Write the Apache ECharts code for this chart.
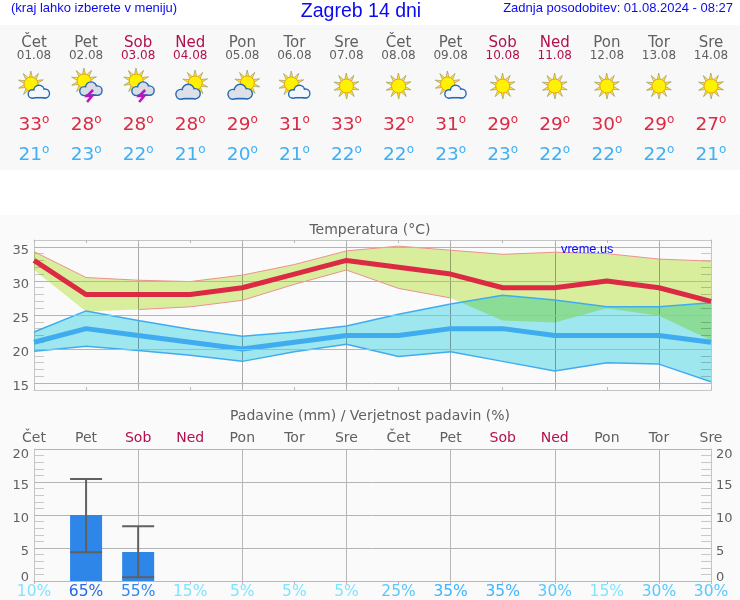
<!DOCTYPE html>
<html><head><meta charset="utf-8">
<style>html,body{margin:0;padding:0;background:#fafafa}#c{width:740px;height:600px}</style>
<script src="https://cdn.jsdelivr.net/npm/echarts@6/dist/echarts.min.js"></script>
</head><body><div id="c"></div>
<script>
const dayNames = ['Čet','Pet','Sob','Ned','Pon','Tor','Sre','Čet','Pet','Sob','Ned','Pon','Tor','Sre'];
const dates = ['01.08','02.08','03.08','04.08','05.08','06.08','07.08','08.08','09.08','10.08','11.08','12.08','13.08','14.08'];
const icons = ['sunCloud','storm','storm','cloudSun','cloudSun','sunCloud','sun','sun','sunCloud','sun','sun','sun','sun','sun'];
const tMax = [33,28,28,28,29,31,33,32,31,29,29,30,29,27];
const tMin = [21,23,22,21,20,21,22,22,23,23,22,22,22,21];
const maxUpper = [34.3,30.5,30.1,29.9,30.85,32.4,34.4,35.1,34.5,33.9,34.2,34.0,33.2,32.9];
const maxLower = [31.6,25.5,25.8,26.2,27.15,29.5,31.6,28.9,27.5,24.2,23.9,26.0,24.9,21.3];
const minUpper = [22.5,25.6,24.2,22.9,21.9,22.5,23.4,25.1,26.6,27.9,27.2,26.2,26.2,26.8];
const minLower = [19.7,20.4,19.8,19.1,18.2,19.6,20.7,18.9,19.6,18.2,16.8,18.0,17.8,15.2];
const tempTicks = [15,20,25,30,35];
const rain = [0,10,4.4,0,0,0,0,0,0,0,0,0,0,0];
const rainLow = [null,4.35,0.55,null,null,null,null,null,null,null,null,null,null,null];
const rainHigh = [null,15.45,8.3,null,null,null,null,null,null,null,null,null,null,null];
const rainProb = [10,65,55,15,5,5,5,25,35,35,30,15,30,30];

const TXT = '#606060', WEEKEND = '#b0104e', FONT = '"DejaVu Sans"', AR = '"Liberation Sans"', BLUE = '#0a0af0';
const L = 34, R = 29;
const dayColor = i => (dayNames[i] === 'Sob' || dayNames[i] === 'Ned') ? WEEKEND : TXT;
const probColor = p => p >= 65 ? '#2868e0' : p >= 55 ? '#3088ee' : p >= 35 ? '#40b4ff' : p >= 25 ? '#58c8ff' : '#80e4ff';
const idx = dayNames.map((_, i) => i);

function rowSeries(y, fmt, color, size, rich) {
  return {
    type: 'scatter', xAxisIndex: 0, yAxisIndex: 0, symbolSize: 1, itemStyle: {color: 'transparent', opacity: 1}, silent: true,
    data: idx.map(i => ({value: [i, y], label: {color: color(i), formatter: fmt(i)}})),
    label: {show: true, position: 'inside', fontFamily: FONT, fontSize: size, rich: rich}
  };
}
const degRich = c => ({
  n: {fontFamily: FONT, fontSize: 18.5, color: c, lineHeight: 22},
  d: {fontFamily: FONT, fontSize: 12, color: c, verticalAlign: 'top', lineHeight: 16, padding: [0,0,6,0]}
});

function sun(cx, cy) {
  const ch = [];
  for (let k = 0; k < 10; k++) {
    const a = k * Math.PI / 5 + 0.3;
    const b = 0.34;
    ch.push({type: 'polygon', shape: {points: [
      [cx + 13 * Math.cos(a), cy + 13 * Math.sin(a)],
      [cx + 5.5 * Math.cos(a + b), cy + 5.5 * Math.sin(a + b)],
      [cx + 5.5 * Math.cos(a - b), cy + 5.5 * Math.sin(a - b)]
    ]}, style: {fill: '#ffe61e', stroke: '#9a9a70', lineWidth: 0.7}});
  }
  ch.push({type: 'circle', shape: {cx, cy, r: 7}, style: {fill: '#fff200', stroke: '#f0a020', lineWidth: 1}});
  return ch;
}
function cloud(cx, cy, s, fill) {
  const cs = [[-6.5*s,2*s,4*s],[0,-1.5*s,5*s],[6*s,1.5*s,4.2*s]];
  const ch = [];
  cs.forEach(c => ch.push({type:'circle', shape:{cx:cx+c[0], cy:cy+c[1], r:c[2]}, style:{fill:fill, stroke:'#2468b4', lineWidth:2}}));
  ch.push({type:'rect', shape:{x:cx-6.5*s, y:cy+1*s, width:12.5*s, height:4.6*s}, style:{fill:fill, stroke:'#2468b4', lineWidth:2}});
  cs.forEach(c => ch.push({type:'circle', shape:{cx:cx+c[0], cy:cy+c[1], r:c[2]-0.4}, style:{fill:fill}}));
  ch.push({type:'rect', shape:{x:cx-6.5*s, y:cy+0.5*s, width:12.5*s, height:4.4*s}, style:{fill:fill}});
  return ch;
}
function bolt(cx, cy) {
  return [{type:'polyline', shape:{points:[[cx+3,cy-6],[cx-3,cy],[cx+2,cy],[cx-3,cy+6]]}, style:{fill:'none', stroke:'#c010c0', lineWidth:2.5}}];
}
function renderIcon(params, api) {
  const i = api.value(0), p = api.coord([i, api.value(1)]), t = icons[i];
  let ch;
  if (t === 'sun') ch = sun(0, 0);
  else if (t === 'sunCloud') ch = sun(-3, -2).concat(cloud(5, 6, 1, '#f4f8fc'));
  else if (t === 'storm') ch = sun(-2, -5).concat(cloud(5, 3, 1.05, '#d8dce4'), bolt(4, 10));
  else ch = sun(5, -3).concat(cloud(-2, 6, 1.15, '#dde0e8'));
  return {type: 'group', x: p[0], y: p[1], children: ch};
}
function bandRender(upper, lower, fill) {
  return function (params, api) {
    const pts = [];
    upper.forEach((v, i) => pts.push(api.coord([i, v])));
    for (let i = lower.length - 1; i >= 0; i--) pts.push(api.coord([i, lower[i]]));
    return {type: 'polygon', shape: {points: pts}, style: {fill: fill}};
  };
}
function edge(d, color, w, z) {
  return {type:'line', xAxisIndex:1, yAxisIndex:1, data:d, symbol:'none', silent:true, z:z, connectNulls:false, lineStyle:{color:color, width:w}};
}
function renderErr(params, api) {
  const x = api.value(0), lo = api.coord([x, api.value(1)]), hi = api.coord([x, api.value(2)]);
  const hw = 16, st = {stroke:'#606060', lineWidth:2, fill:'none'};
  return {type:'group', children:[
    {type:'line', shape:{x1:hi[0], y1:hi[1], x2:lo[0], y2:lo[1]}, style:st},
    {type:'line', shape:{x1:hi[0]-hw, y1:hi[1], x2:hi[0]+hw, y2:hi[1]}, style:st},
    {type:'line', shape:{x1:lo[0]-hw, y1:lo[1], x2:lo[0]+hw, y2:lo[1]}, style:st}
  ]};
}
const catAxis = (g, pos, extra) => Object.assign({
  type:'category', gridIndex:g, position:pos, data:dayNames, boundaryGap:false,
  axisLine:{show:true, lineStyle:{color:'#c4c4c4', width:1}},
  axisTick:{show:true, inside:true, length:3, lineStyle:{color:'#b8b8b8'}},
  axisLabel:{show:false}, splitLine:{show:false}
}, extra);
const valLabel = {fontFamily:FONT, fontSize:13, color:TXT, verticalAlign:'top', lineHeight:7};
const rainLabel = Object.assign({}, valLabel, {
  margin:5, verticalAlignMinLabel:'bottom',
  formatter: v => v === 20 ? '{t|20}' : String(v),
  rich: {t: {fontFamily:FONT, fontSize:13, color:TXT, lineHeight:7, padding:[4,0,0,0]}}
});
const tTitle = (font, size, color) => ({fontFamily:font, fontSize:size, fontWeight:'normal', color:color});

const option = {
  animation: false,
  backgroundColor: '#fafafa',
  graphic: [
    {type:'rect', z:-5, shape:{x:0,y:0,width:740,height:25}, style:{fill:'#ffffff'}},
    {type:'rect', z:-5, shape:{x:0,y:25,width:740,height:145}, style:{fill:'#f8f8f8'}},
    {type:'rect', z:-5, shape:{x:0,y:170,width:740,height:45}, style:{fill:'#ffffff'}}
  ],
  title: [
    {text:'(kraj lahko izberete v meniju)', padding:0, left:11, top:2, textStyle:tTitle(AR,13,BLUE)},
    {text:'Zagreb 14 dni', padding:0, left:361, textAlign:'center', top:2, textStyle:tTitle(AR,19.5,BLUE)},
    {text:'Zadnja posodobitev: 01.08.2024 - 08:27', padding:0, right:7, top:2, textStyle:tTitle(AR,13,BLUE)},
    {text:'Temperatura (°C)', padding:0, left:370, textAlign:'center', top:223, textStyle:tTitle(FONT,14,TXT)},
    {text:'vreme.us', padding:0, left:561, top:243, z:20, textStyle:tTitle(AR,12.75,BLUE)},
    {text:'Padavine (mm) / Verjetnost padavin (%)', padding:0, left:370, textAlign:'center', top:409, textStyle:tTitle(FONT,14,TXT)}
  ],
  grid: [
    {left:L, right:R, top:25, height:145},
    {left:L, right:R, top:240, height:150, show:true, backgroundColor:'#fafafa', borderWidth:0},
    {left:L, right:R, top:449, height:132, show:true, backgroundColor:'#fafafa', borderWidth:0}
  ],
  xAxis: [
    {type:'category', gridIndex:0, data:dayNames, boundaryGap:false, show:false},
    catAxis(1,'bottom',{splitLine:{show:true, interval:1, lineStyle:{color:'#a8a8a8'}}}),
    catAxis(1,'top',{}),
    catAxis(2,'bottom',{
      data: rainProb.map(p => p + '%'), axisTick:{show:false},
      axisLabel:{show:true, interval:0, margin:3, fontFamily:FONT, fontSize:15.5, color:(v,i)=>probColor(rainProb[i])},
      splitLine:{show:true, interval:1, lineStyle:{color:'#b8b4b8'}}
    }),
    catAxis(2,'top',{
      axisLine:{show:true, lineStyle:{color:'#e4a0bc', width:1}},
      axisTick:{show:true, inside:true, length:3, lineStyle:{color:'#e4a0bc'}},
      axisLabel:{show:true, interval:0, margin:4, fontFamily:FONT, fontSize:14, color:(v,i)=>dayColor(i)}
    })
  ],
  yAxis: [
    {type:'value', gridIndex:0, min:0, max:145, inverse:true, show:false},
    {type:'value', gridIndex:1, position:'left', min:14, max:36, interval:1,
     axisLine:{show:true, lineStyle:{color:'#c4c4c4'}},
     axisTick:{show:true, inside:true, length:10, lineStyle:{color:'#c8c8c8'}},
     axisLabel:Object.assign({margin:5, formatter:v => tempTicks.includes(v) ? String(v) : ''}, valLabel),
     splitLine:{show:false}},
    {type:'value', gridIndex:1, position:'right', min:14, max:36, interval:1,
     axisLine:{show:true, lineStyle:{color:'#c4c4c4'}},
     axisTick:{show:true, inside:true, length:10, lineStyle:{color:'#c8c8c8'}},
     axisLabel:{show:false}, splitLine:{show:false}},
    {type:'value', gridIndex:2, position:'left', min:0, max:20, interval:5,
     axisLine:{show:true, lineStyle:{color:'#c4c4c4'}},
     axisTick:{show:false, inside:true},
     minorTick:{show:true, splitNumber:5, length:10, lineStyle:{color:'#c8c8c8'}},
     axisLabel:rainLabel,
     splitLine:{show:true, lineStyle:{color:'#b4b4b4'}}},
    {type:'value', gridIndex:2, position:'right', min:0, max:20, interval:5,
     axisLine:{show:true, lineStyle:{color:'#c4c4c4'}},
     axisTick:{show:false, inside:true},
     minorTick:{show:true, splitNumber:5, length:10, lineStyle:{color:'#c8c8c8'}},
     axisLabel:rainLabel,
     splitLine:{show:false}}
  ],
  series: [
    rowSeries(18, i => dayNames[i], dayColor, 15),
    rowSeries(31, i => dates[i], dayColor, 12),
    rowSeries(100, i => `{n|${tMax[i]}}{d|o}`, () => '#dc2a44', 18, degRich('#dc2a44')),
    rowSeries(130, i => `{n|${tMin[i]}}{d|o}`, () => '#40b0f4', 18, degRich('#40b0f4')),
    {type:'custom', xAxisIndex:0, yAxisIndex:0, silent:true, clip:false, renderItem:renderIcon,
     data: idx.map(i => [i, 61])},
    {type:'line', xAxisIndex:1, yAxisIndex:1, data:[], silent:true, z:1,
     markLine:{silent:true, symbol:'none', label:{show:false}, lineStyle:{color:'#b4b4b4', type:'solid', width:1},
       data: tempTicks.map(v => ({yAxis:v}))}},
    {type:'custom', xAxisIndex:1, yAxisIndex:1, silent:true, z:2, clip:false, blendMode:'multiply',
     renderItem:bandRender(maxUpper, maxLower, '#def3a0'), data:[[0,0]]},
    {type:'custom', xAxisIndex:1, yAxisIndex:1, silent:true, z:2, clip:false, blendMode:'multiply',
     renderItem:bandRender(minUpper, minLower, '#a2ecf4'), data:[[0,0]]},
    edge(maxUpper,'#ee9090',1,3),
    edge(maxLower.map((v,i) => v >= minUpper[i] ? v : null),'#ee9090',1,3),
    edge(minUpper,'#40acf0',1.5,3),
    edge(minLower,'#40acf0',1.5,3),
    edge(tMin,'#40acf0',5,4),
    edge(tMax,'#dc2a44',5,5),
    {type:'bar', xAxisIndex:3, yAxisIndex:3, data:rain, barWidth:32, silent:true, z:3,
     itemStyle:{color:'#2e86e8'}},
    {type:'custom', xAxisIndex:3, yAxisIndex:3, silent:true, z:4, clip:false, renderItem:renderErr,
     data: idx.filter(i => rainHigh[i] !== null).map(i => [i, rainLow[i], rainHigh[i]])}
  ]
};
const chart = echarts.init(document.getElementById('c'), null, {renderer:'canvas'});
chart.setOption(option);
</script></body></html>
